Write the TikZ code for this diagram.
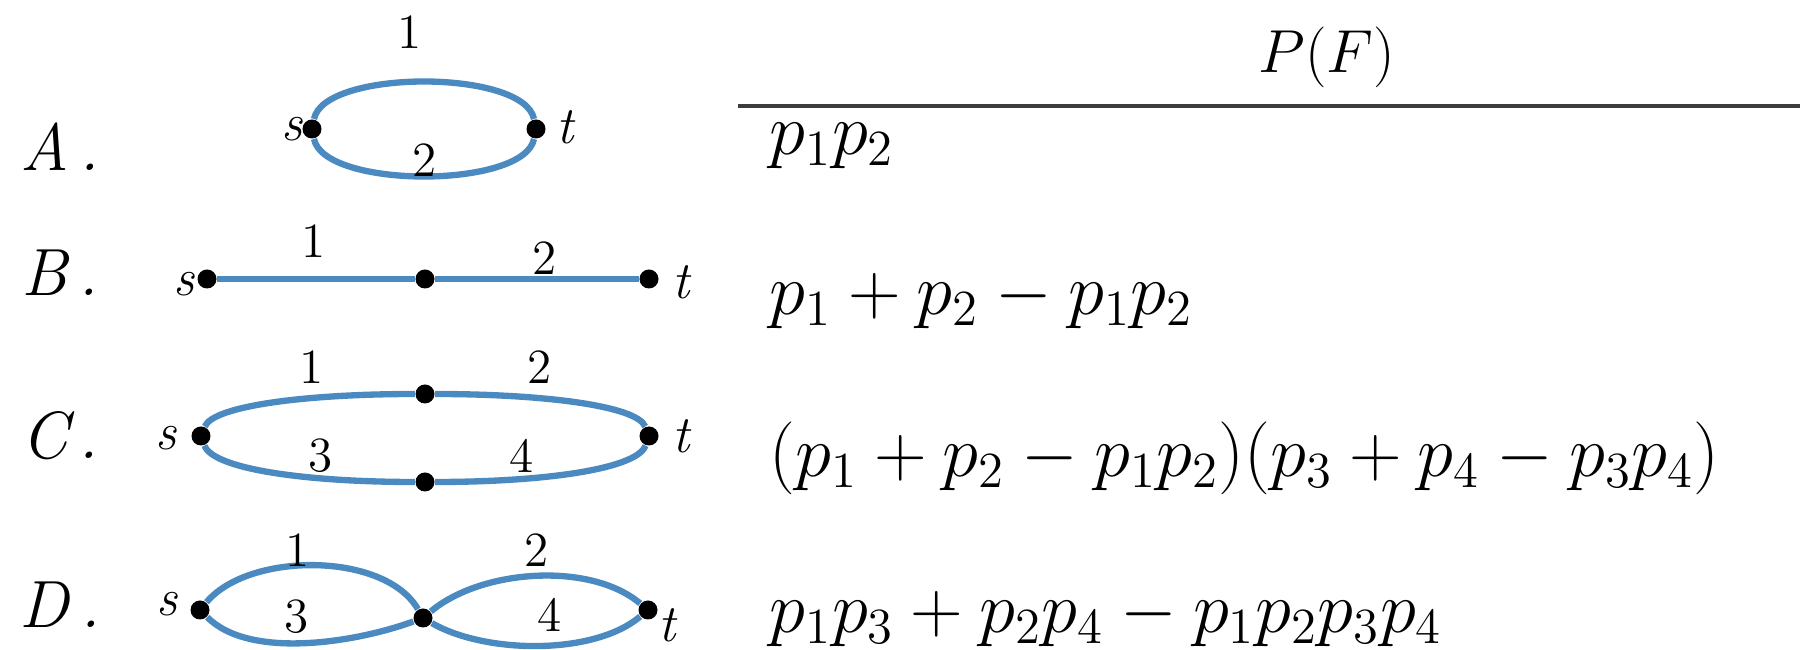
\documentclass[tikz,border=0pt]{standalone}
\usepackage{tikz}
\usetikzlibrary{positioning}
\usepackage{amsmath}
\definecolor{edgeblue}{RGB}{74,138,192}
\definecolor{rulegray}{RGB}{60,60,60}

\begin{document}
\begin{tikzpicture}[
    dot/.style={circle,fill=black,inner sep=0pt,minimum size=0.19cm},
    wire/.style={draw=edgeblue,line width=1.8pt},
    rowlab/.style={font=\itshape\fontsize{19}{22}\selectfont},
    vlab/.style={font=\itshape\fontsize{15}{17}\selectfont,inner sep=0pt},
    elab/.style={font=\fontsize{14}{16}\selectfont,inner sep=0pt},
    formula/.style={font=\fontsize{20}{24}\selectfont,anchor=base west,inner sep=0pt}]

    \useasboundingbox (0,0) rectangle (18,-6.5);

    \node[rowlab] (rowA) at (0.60,-1.47) {A\,.};
    \node[rowlab] (rowB) at (0.60,-2.73) {B\,.};
    \node[rowlab] (rowC) at (0.60,-4.36) {C\,.};
    \node[rowlab] (rowD) at (0.60,-6.05) {D\,.};

    \node[dot] (As) at (3.12,-1.29) {};
    \node[dot] (At) at (5.36,-1.29) {};
    \node[vlab] (Asl) at (2.92,-1.29) {s};
    \node[vlab] (Atl) at (5.65,-1.27) {t};
    \draw[wire] (As) .. controls +(0.12,0.60) and +(-0.12,0.60) .. (At);
    \draw[wire] (As) .. controls +(0.12,-0.60) and +(-0.12,-0.60) .. (At);
    \node[elab] (A1) at (4.10,-0.32) {1};
    \node[elab] (A2) at (4.25,-1.60) {2};

    \node[dot] (Bs) at (2.07,-2.79) {};
    \node[dot] (Bm) at (4.25,-2.79) {};
    \node[dot] (Bt) at (6.49,-2.79) {};
    \node[vlab] (Bsl) at (1.84,-2.84) {s};
    \node[vlab] (Btl) at (6.81,-2.82) {t};
    \draw[wire] (Bs) -- (Bm) -- (Bt);
    \node[elab] (B1) at (3.14,-2.41) {1};
    \node[elab] (B2) at (5.45,-2.58) {2};

    \node[dot] (Cs) at (2.01,-4.36) {};
    \node[dot] (Ca) at (4.25,-3.94) {};
    \node[dot] (Cb) at (4.25,-4.82) {};
    \node[dot] (Ct) at (6.49,-4.36) {};
    \node[vlab] (Csl) at (1.66,-4.38) {s};
    \node[vlab] (Ctl) at (6.81,-4.36) {t};
    \draw[wire] (Cs) .. controls +(0.12,0.30) and +(-1.2,0) .. (Ca);
    \draw[wire] (Ca) .. controls +(1.2,0) and +(-0.12,0.30) .. (Ct);
    \draw[wire] (Cs) .. controls +(0.12,-0.33) and +(-1.2,0) .. (Cb);
    \draw[wire] (Cb) .. controls +(1.2,0) and +(-0.12,-0.33) .. (Ct);
    \node[elab] (C1) at (3.12,-3.67) {1};
    \node[elab] (C2) at (5.40,-3.67) {2};
    \node[elab] (C3) at (3.21,-4.56) {3};
    \node[elab] (C4) at (5.22,-4.56) {4};

    \node[dot] (Ds) at (2.00,-6.10) {};
    \node[dot] (Dm) at (4.23,-6.18) {};
    \node[dot] (Dt) at (6.48,-6.10) {};
    \node[vlab] (Dsl) at (1.67,-6.04) {s};
    \node[vlab] (Dtl) at (6.67,-6.25) {t};
    \draw[wire] (Ds) to[out=50,in=120,looseness=0.8] (Dm);
    \draw[wire] (Ds) to[out=-45,in=-160,looseness=0.75] (Dm);
    \draw[wire] (Dm) to[out=40,in=140,looseness=0.8] (Dt);
    \draw[wire] (Dm) to[out=-30,in=-140,looseness=0.75] (Dt);
    \node[elab] (D1) at (2.98,-5.50) {1};
    \node[elab] (D2) at (5.37,-5.50) {2};
    \node[elab] (D3) at (2.97,-6.17) {3};
    \node[elab] (D4) at (5.50,-6.15) {4};

    \node[font=\fontsize{17}{20}\selectfont] (pf) at (13.27,-0.57) {$P(F)$};
    \coordinate (ruleL) at (7.38,-1.06);
    \coordinate (ruleR) at (18,-1.06);
    \draw[rulegray,line width=0.9pt] (ruleL) -- (ruleR);

    \node[formula] (fA) at (7.69,-1.55) {$p_1p_2$};
    \node[formula] (fB) at (7.69,-3.15) {$p_1+p_2-p_1p_2$};
    \node[formula] (fC) at (7.69,-4.77) {$(p_1+p_2-p_1p_2)(p_3+p_4-p_3p_4)$};
    \node[formula] (fD) at (7.69,-6.33) {$p_1p_3+p_2p_4-p_1p_2p_3p_4$};
\end{tikzpicture}
\end{document}
